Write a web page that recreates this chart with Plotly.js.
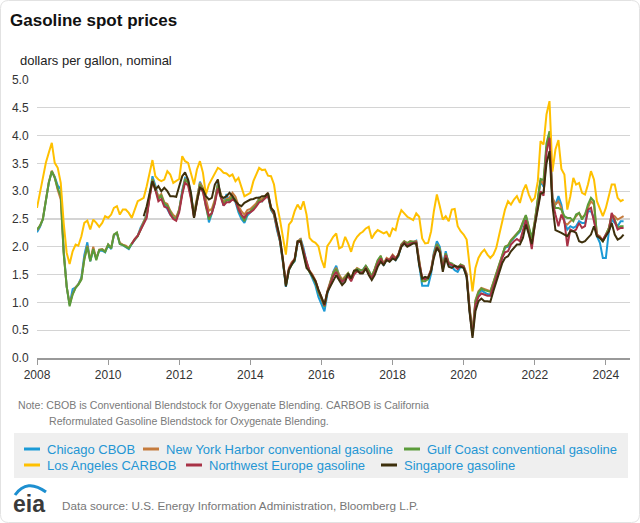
<!DOCTYPE html>
<html>
<head>
<meta charset="utf-8">
<script src="https://cdn.plot.ly/plotly-3.0.1.min.js"></script>
<style>html,body{margin:0;padding:0;background:#fff;}#chart{width:640px;height:523px;}</style>
</head>
<body>
<div id="chart"></div>
<script>
// ---------- data (monthly, dollars per gallon) ----------
const seriesNames = ["Chicago CBOB","New York Harbor conventional gasoline","Gulf Coast conventional gasoline","Los Angeles CARBOB","Northwest Europe gasoline","Singapore gasoline"];
const seriesColors = ["#1b9ad6","#c57b3d","#5b9b3a","#ffc000","#a83246","#3d2f0c"];

const chicagoStart = "2008-01";
const chicago = [
2.26,2.36,2.50,2.84,3.15,3.35,3.26,3.10,3.04,1.95,1.28,0.96,
1.24,1.27,1.33,1.45,1.85,2.08,1.74,1.95,1.80,1.93,1.93,1.90,
2.03,1.96,2.21,2.24,2.05,2.03,2.00,1.96,2.05,2.12,2.20,2.35,
2.45,2.58,2.95,3.27,3.10,2.88,2.92,2.76,2.68,2.58,2.52,2.50,
2.66,3.02,3.24,3.20,2.95,2.55,2.84,3.17,3.04,2.82,2.44,2.60,
2.82,3.15,2.94,2.74,2.95,2.80,2.90,2.80,2.62,2.50,2.43,2.56,
2.62,2.70,2.75,2.88,2.82,2.90,2.92,2.66,2.58,2.30,2.10,1.72,
1.28,1.58,1.68,1.74,2.06,2.15,1.98,1.72,1.55,1.43,1.30,1.10,
0.98,0.84,1.14,1.34,1.55,1.66,1.48,1.36,1.44,1.52,1.40,1.52,
1.60,1.56,1.58,1.66,1.55,1.45,1.57,1.72,1.80,1.66,1.78,1.74,
1.82,1.76,1.83,2.02,2.06,2.02,2.06,2.08,2.11,1.68,1.30,1.30,
1.30,1.52,1.90,2.10,2.00,1.66,1.92,1.68,1.64,1.58,1.55,1.64,
1.62,1.46,0.86,0.42,1.00,1.15,1.22,1.18,1.15,1.14,1.30,1.48,
1.66,1.85,1.98,2.00,2.10,2.16,2.22,2.27,2.42,2.55,2.33,2.12,
2.42,2.80,3.18,3.08,3.78,3.95,2.88,2.76,2.91,2.76,2.46,2.31,
2.37,2.34,2.37,2.46,2.43,2.43,2.64,2.64,2.52,2.19,2.07,1.80,
1.80,2.28,2.49,2.43,2.37,2.46,2.46];

const nyHarborStart = "2008-01";
const nyHarbor = [
2.30,2.38,2.50,2.86,3.16,3.37,3.25,3.02,2.85,1.90,1.28,0.97,
1.15,1.27,1.33,1.42,1.78,2.02,1.76,2.00,1.78,1.95,1.96,1.92,
2.04,1.98,2.22,2.25,2.07,2.04,2.02,1.98,2.07,2.14,2.20,2.33,
2.45,2.56,2.92,3.22,3.06,2.90,2.95,2.80,2.77,2.65,2.57,2.53,
2.68,3.00,3.22,3.17,2.92,2.60,2.88,3.15,3.06,2.88,2.65,2.68,
2.85,3.12,2.97,2.80,2.86,2.88,2.97,2.90,2.74,2.64,2.58,2.66,
2.68,2.74,2.78,2.86,2.86,2.92,2.97,2.71,2.62,2.38,2.14,1.78,
1.33,1.62,1.72,1.78,2.10,2.14,1.93,1.70,1.57,1.50,1.39,1.22,
1.10,0.94,1.20,1.38,1.54,1.62,1.50,1.41,1.47,1.53,1.43,1.56,
1.62,1.58,1.56,1.65,1.56,1.47,1.60,1.75,1.82,1.70,1.80,1.77,
1.86,1.80,1.86,2.04,2.10,2.07,2.10,2.09,2.10,1.78,1.42,1.40,
1.45,1.60,1.87,2.05,1.96,1.64,1.88,1.69,1.68,1.66,1.62,1.68,
1.66,1.52,0.92,0.46,1.04,1.20,1.26,1.24,1.21,1.20,1.36,1.53,
1.70,1.88,2.00,2.03,2.12,2.18,2.24,2.30,2.45,2.56,2.34,2.12,
2.46,2.82,3.20,3.12,3.78,3.99,2.88,2.76,2.82,2.70,2.43,2.40,
2.46,2.49,2.55,2.61,2.52,2.58,2.70,2.82,2.76,2.22,2.19,2.10,
2.22,2.34,2.58,2.55,2.49,2.52,2.55];

const gulfCoastStart = "2008-01";
const gulfCoast = [
2.31,2.38,2.49,2.85,3.15,3.36,3.24,3.05,2.92,1.88,1.29,0.93,
1.14,1.26,1.32,1.41,1.77,2.00,1.74,1.96,1.76,1.94,1.95,1.91,
2.04,1.97,2.22,2.26,2.05,2.03,2.00,1.97,2.06,2.12,2.19,2.31,
2.43,2.55,2.90,3.21,3.04,2.86,2.92,2.78,2.74,2.62,2.52,2.50,
2.66,2.98,3.20,3.15,2.90,2.56,2.86,3.12,3.02,2.72,2.49,2.62,
2.80,3.10,2.94,2.76,2.84,2.84,2.90,2.84,2.66,2.55,2.46,2.60,
2.64,2.70,2.74,2.84,2.82,2.90,2.94,2.68,2.58,2.34,2.10,1.74,
1.30,1.58,1.68,1.75,2.08,2.12,1.90,1.66,1.54,1.46,1.35,1.18,
1.06,0.92,1.18,1.36,1.52,1.60,1.47,1.38,1.45,1.52,1.41,1.54,
1.60,1.58,1.58,1.66,1.58,1.47,1.60,1.76,1.84,1.68,1.78,1.75,
1.84,1.78,1.84,2.04,2.10,2.06,2.10,2.09,2.08,1.74,1.38,1.38,
1.42,1.58,1.86,2.04,1.96,1.63,1.88,1.72,1.70,1.66,1.62,1.68,
1.65,1.50,0.90,0.44,1.02,1.18,1.25,1.22,1.20,1.19,1.35,1.52,
1.68,1.88,2.00,2.02,2.11,2.17,2.24,2.30,2.44,2.57,2.36,2.16,
2.46,2.82,3.22,3.20,3.86,4.08,2.82,2.70,2.70,2.67,2.55,2.52,
2.52,2.46,2.58,2.61,2.49,2.58,2.76,2.88,2.82,2.22,2.16,2.10,
2.22,2.34,2.55,2.49,2.34,2.37,2.37];

const losAngelesStart = "2008-01";
const losAngeles = [
2.70,3.00,3.27,3.51,3.69,3.87,3.51,3.42,3.15,2.43,1.89,1.69,
1.92,2.04,2.02,2.19,2.43,2.47,2.31,2.49,2.43,2.36,2.43,2.55,
2.52,2.58,2.70,2.73,2.58,2.67,2.67,2.61,2.52,2.67,2.82,2.85,
2.88,3.09,3.33,3.56,3.27,3.21,3.18,3.21,3.36,3.30,3.15,3.18,
3.22,3.63,3.54,3.51,3.30,3.12,3.39,3.54,3.33,2.94,3.12,3.21,
3.33,3.42,3.39,3.33,3.32,3.27,3.30,3.18,3.24,3.06,2.91,2.94,
2.97,3.18,3.30,3.42,3.38,3.39,3.28,3.27,3.12,2.76,2.49,2.19,
1.86,2.40,2.46,2.64,2.76,2.67,2.82,2.58,2.16,2.10,2.07,2.01,
1.77,1.62,2.01,2.09,2.18,2.24,1.97,2.00,2.18,2.06,1.91,2.09,
2.18,2.24,2.27,2.33,2.36,2.15,2.24,2.30,2.27,2.24,2.27,2.18,
2.33,2.30,2.51,2.66,2.60,2.54,2.51,2.48,2.60,2.54,2.15,2.06,
2.07,2.28,2.64,2.94,2.73,2.49,2.55,2.46,2.67,2.68,2.37,2.28,
2.22,2.13,1.68,1.20,1.62,1.80,1.89,1.95,1.86,1.80,1.86,1.98,
2.22,2.46,2.67,2.82,2.76,2.85,2.91,2.79,3.00,3.12,2.94,2.82,
2.88,3.18,3.90,3.84,4.38,4.62,3.35,3.75,3.92,3.40,3.30,2.67,
2.91,3.24,3.12,3.15,2.97,2.94,3.12,3.36,3.21,2.82,2.67,2.55,
2.70,2.94,3.12,3.12,2.88,2.82,2.85];

const nwEuropeStart = "2010-09";
const nwEurope = [
2.05,2.14,2.20,2.30,
2.40,2.52,2.86,3.18,3.02,2.82,2.86,2.72,2.70,2.58,2.50,2.47,
2.62,2.94,3.15,3.10,2.86,2.52,2.80,3.08,2.98,2.74,2.56,2.60,
2.78,3.05,2.90,2.74,2.80,2.80,2.85,2.82,2.68,2.58,2.52,2.60,
2.62,2.66,2.72,2.80,2.82,2.88,2.92,2.70,2.60,2.35,2.12,1.76,
1.32,1.60,1.70,1.78,2.08,2.10,1.92,1.70,1.56,1.48,1.38,1.22,
1.08,0.94,1.18,1.34,1.47,1.55,1.44,1.37,1.42,1.47,1.38,1.50,
1.56,1.54,1.54,1.62,1.52,1.44,1.55,1.70,1.79,1.68,1.78,1.76,
1.84,1.78,1.86,2.02,2.08,2.03,2.06,2.07,2.08,1.72,1.44,1.42,
1.45,1.58,1.84,2.00,1.92,1.60,1.85,1.70,1.68,1.65,1.60,1.66,
1.64,1.48,0.88,0.40,0.96,1.10,1.16,1.14,1.12,1.12,1.28,1.46,
1.62,1.80,1.90,1.92,2.04,2.10,2.14,2.10,2.30,2.48,2.25,1.96,
2.40,2.72,3.00,2.92,3.70,3.96,2.82,2.58,2.37,2.58,2.46,2.01,
2.31,2.28,2.31,2.43,2.34,2.37,2.67,2.70,2.46,2.22,2.16,2.13,
2.22,2.28,2.61,2.46,2.31,2.34,2.34];

const singaporeStart = "2011-01";
const singapore = [
2.55,2.73,2.95,3.18,3.03,3.09,3.00,3.06,3.00,2.91,2.91,2.90,
3.09,3.27,3.34,3.21,2.97,2.52,2.82,3.06,3.03,2.91,2.85,2.88,
3.12,3.21,2.91,2.88,2.91,2.97,2.91,2.82,2.76,2.73,2.79,2.82,
2.85,2.86,2.88,2.88,2.91,2.91,2.97,2.70,2.64,2.40,2.16,1.77,
1.29,1.59,1.68,1.77,2.10,2.10,1.86,1.62,1.56,1.47,1.38,1.23,
1.11,0.96,1.18,1.28,1.37,1.49,1.40,1.31,1.37,1.52,1.43,1.57,
1.58,1.52,1.52,1.61,1.49,1.40,1.49,1.64,1.73,1.67,1.76,1.73,
1.79,1.76,1.85,2.00,2.06,2.00,2.03,2.06,2.06,1.67,1.43,1.46,
1.44,1.56,1.80,1.98,1.90,1.55,1.80,1.64,1.62,1.66,1.64,1.64,
1.62,1.46,0.84,0.36,0.84,1.02,1.07,1.02,1.02,1.01,1.20,1.38,
1.56,1.71,1.80,1.83,1.92,1.98,2.04,2.04,2.16,2.40,2.20,2.05,
2.38,2.72,2.95,2.98,3.50,3.72,2.75,2.30,2.28,2.25,2.22,2.19,
2.28,2.28,2.25,2.10,2.08,2.10,2.16,2.22,2.37,2.19,2.16,2.10,
2.19,2.28,2.43,2.22,2.13,2.16,2.22];

const yTickValues = [0,0.5,1,1.5,2,2.5,3,3.5,4,4.5,5];
const titleText = "Gasoline spot prices";
const unitText = "dollars per gallon, nominal";
const noteLine1 = "Note: CBOB is Conventional Blendstock for Oxygenate Blending. CARBOB is California";
const noteLine2 = "Reformulated Gasoline Blendstock for Oxygenate Blending.";
const sourceText = "Data source: U.S. Energy Information Administration, Bloomberg L.P.";

// ---------- build ----------
function monthDates(start, n) {
  let [y, m] = start.split("-").map(Number);
  const out = [];
  for (let i = 0; i < n; i++) {
    out.push(y + "-" + String(m).padStart(2, "0") + "-01");
    m++; if (m > 12) { m = 1; y++; }
  }
  return out;
}
const allSeries = [
  [chicagoStart, chicago], [nyHarborStart, nyHarbor], [gulfCoastStart, gulfCoast],
  [losAngelesStart, losAngeles], [nwEuropeStart, nwEurope], [singaporeStart, singapore]
];
const traces = allSeries.map((s, i) => ({
  type: "scatter", mode: "lines", name: seriesNames[i],
  x: monthDates(s[0], s[1].length), y: s[1],
  line: { color: seriesColors[i], width: 2 },
  hoverinfo: "skip"
}));

const W = 640, H = 523, L = 37, R = 10, T = 80, B = 165;
const PW = W - L - R, PH = H - T - B;
const px = x => (x - L) / PW;
const py = y => (H - B - y) / PH;
const FONT = "Arial, 'Liberation Sans', sans-serif";

const annotations = [];
const shapes = [];
function label(text, x, y, size, color, anchor) {
  annotations.push({ xref: "paper", yref: "paper", x: px(x), y: py(y), text: text,
    showarrow: false, xanchor: anchor || "left", yanchor: "middle",
    font: { family: FONT, size: size, color: color } });
}
// outer rounded frame
(function () {
  const r = 8, x0 = 0.5, y0 = 0.5, x1 = W - 0.5, y1 = H - 0.5;
  const P = (x, y) => px(x) + "," + py(y);
  shapes.push({ type: "path", xref: "paper", yref: "paper", layer: "below",
    path: "M" + P(x0 + r, y0) + " L" + P(x1 - r, y0) + " Q" + P(x1, y0) + " " + P(x1, y0 + r) +
      " L" + P(x1, y1 - r) + " Q" + P(x1, y1) + " " + P(x1 - r, y1) +
      " L" + P(x0 + r, y1) + " Q" + P(x0, y1) + " " + P(x0, y1 - r) +
      " L" + P(x0, y0 + r) + " Q" + P(x0, y0) + " " + P(x0 + r, y0) + " Z",
    line: { color: "#e2e2e2", width: 1 }, fillcolor: "rgba(0,0,0,0)" });
})();

label(unitText, 18, 61, 13, "#222");
label(noteLine1, 16, 405, 10.6, "#7a7a7a");
label(noteLine2, 47, 421, 10.6, "#7a7a7a");

// legend box
shapes.push({ type: "rect", xref: "paper", yref: "paper", layer: "below",
  x0: px(14), x1: px(628), y0: py(433), y1: py(478),
  fillcolor: "#efefef", line: { width: 0 } });
const legendSlots = [[24, 449], [143, 449], [404, 449], [24, 465], [186, 465], [381, 465]];
legendSlots.forEach((p, i) => {
  shapes.push({ type: "line", xref: "paper", yref: "paper",
    x0: px(p[0]), x1: px(p[0] + 16), y0: py(p[1]), y1: py(p[1]),
    line: { color: seriesColors[i], width: 3 } });
  label(seriesNames[i], p[0] + 21, p[1], 13, "#2596d4");
});

// eia logo and source
label("<b>eia</b>", 11, 504, 23, "#3a3a3a");
shapes.push({ type: "path", xref: "paper", yref: "paper",
  path: "M" + px(15) + "," + py(495) + " Q" + px(27) + "," + py(478) + " " + px(46) + "," + py(492),
  line: { color: "#1d8fd0", width: 3 }, fillcolor: "rgba(0,0,0,0)" });
label(sourceText, 60, 505, 11.7, "#777");

const layout = {
  width: W, height: H,
  margin: { l: L, r: R, t: T, b: B, pad: 0 },
  paper_bgcolor: "rgba(0,0,0,0)", plot_bgcolor: "#fff",
  showlegend: false,
  font: { family: FONT, size: 12, color: "#333" },
  title: { text: "<b>" + titleText + "</b>", xref: "container", yref: "container",
    x: 10 / W, xanchor: "left", y: 1 - 20 / H, yanchor: "middle",
    font: { family: FONT, size: 17, color: "#111" } },
  xaxis: { type: "date", range: ["2008-01-01", "2024-09-05"],
    tick0: "2008-01-01", dtick: "M24", tickformat: "%Y",
    ticks: "outside", ticklen: 5, tickcolor: "#999", tickwidth: 1,
    showline: true, linecolor: "#999", linewidth: 2, showgrid: false, zeroline: false,
    tickfont: { family: FONT, size: 12, color: "#333" } },
  yaxis: { range: [0, 5], tickvals: yTickValues, tickformat: ".1f",
    ticks: "outside", ticklen: 5, tickcolor: "rgba(0,0,0,0)",
    showgrid: true, gridcolor: "#d4d4d4", gridwidth: 1.3, zeroline: false, showline: false,
    tickfont: { family: FONT, size: 12, color: "#333" } },
  annotations: annotations, shapes: shapes
};
Plotly.newPlot("chart", traces, layout, { displayModeBar: false, staticPlot: true });
</script>
</body>
</html>
